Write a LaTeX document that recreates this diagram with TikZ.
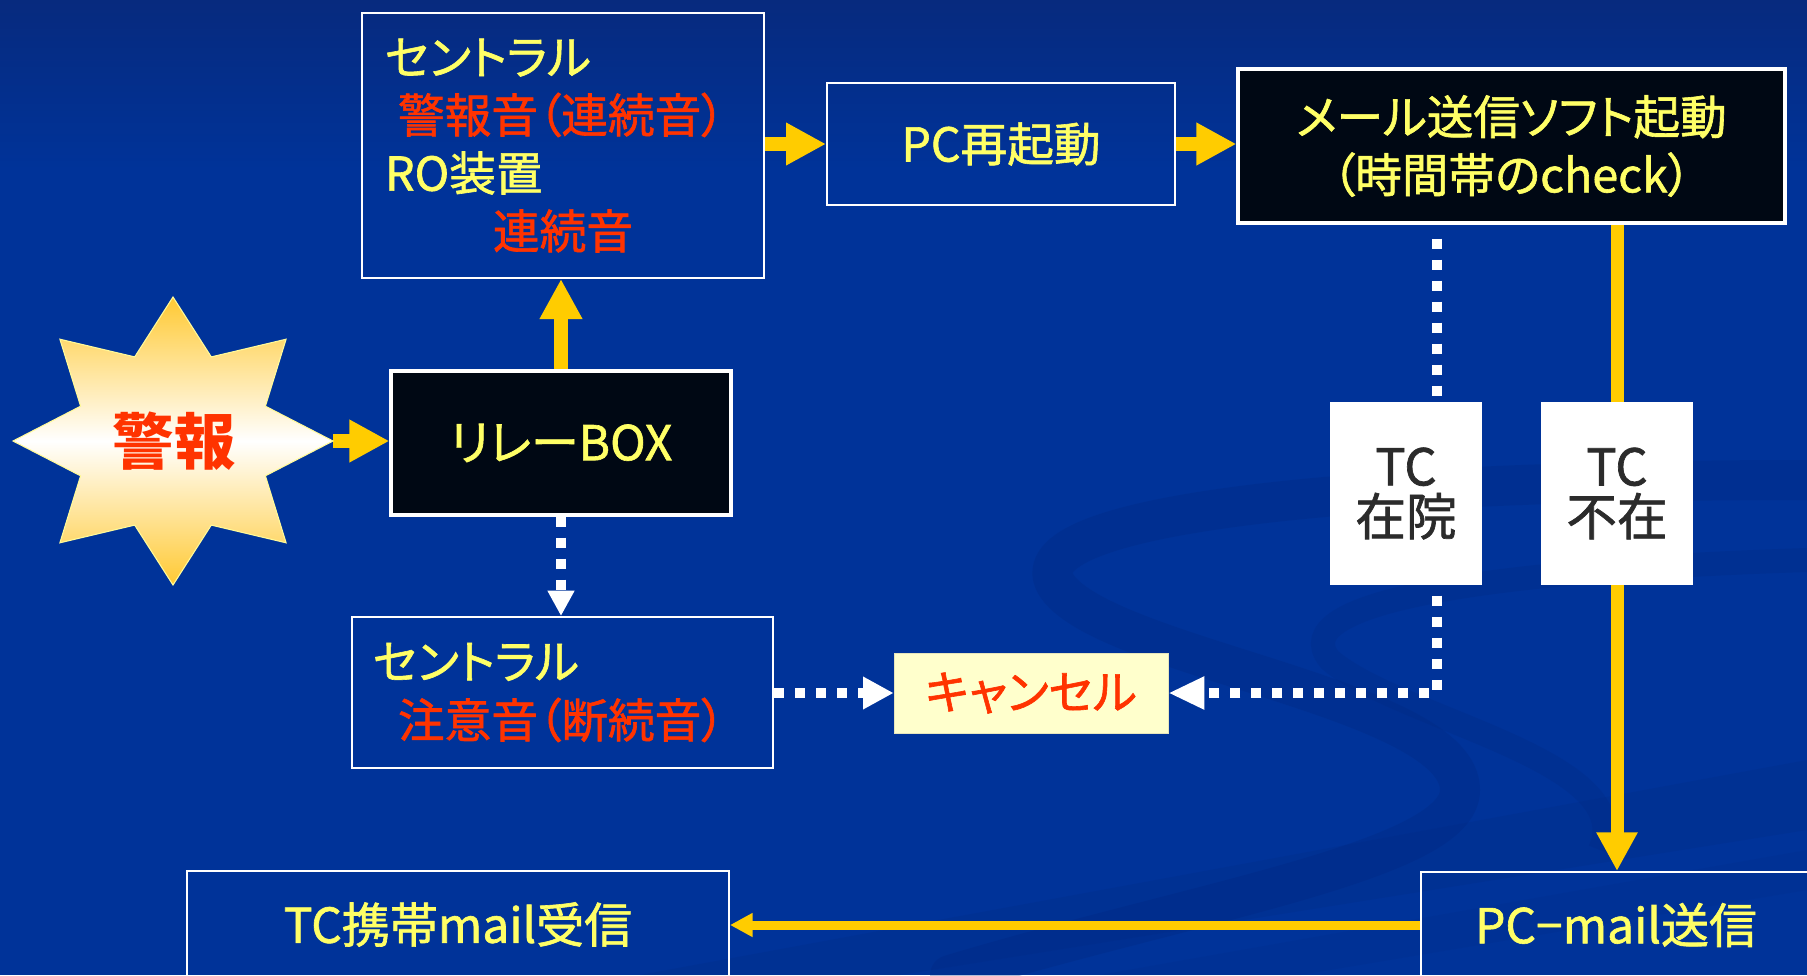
\documentclass[tikz,border=0pt]{standalone}
\usepackage{fontspec}
\setmainfont{Noto Sans CJK JP}[RawFeature=+palt]
\newfontfamily\jpmed{Noto Sans CJK JP}[RawFeature=+palt, FakeBold=1.3]
\usetikzlibrary{arrows.meta,calc}
\definecolor{bgtop}{HTML}{072A7E}
\definecolor{bgmain}{HTML}{003399}
\definecolor{swirlc}{HTML}{00297F}
\definecolor{ycol}{HTML}{FFCC00}
\definecolor{txty}{HTML}{FFFF66}
\definecolor{txtr}{HTML}{FF3300}
\definecolor{txtd}{HTML}{2B2B2B}
\definecolor{cancelbg}{HTML}{FFFFCC}
\definecolor{boxblack}{HTML}{000814}
\definecolor{startop}{HTML}{FFC933}
\pgfdeclarelayer{background}
\pgfdeclarelayer{links}
\pgfsetlayers{background,links,main}
\tikzset{
  bsz/.style 2 args={minimum width=#1*0.75pt, minimum height=#2*0.75pt},
  bluebox/.style={draw=white, line width=1.5pt, inner sep=0pt, text=txty,
    font=\jpmed\fontsize{35}{43.5}\selectfont},
  blackbox/.style={draw=white, fill=boxblack, line width=2.4pt, inner sep=0pt, text=txty,
    font=\jpmed\fontsize{35}{43.5}\selectfont, align=center},
  tcbox/.style={fill=white, inner sep=0pt, text=txtd, align=center,
    font=\jpmed\fontsize{38}{37.5}\selectfont},
  cancelbox/.style={fill=cancelbg, draw=cancelbg!80!gray, line width=0.5pt, inner sep=0pt,
    text=txtr, font=\jpmed\fontsize{35}{40}\selectfont},
  yarrow/.style={draw=ycol, line width=10.5pt, -{Triangle[length=30pt,width=30pt]}},
  ylong/.style={draw=ycol, line width=9.75pt, -{Triangle[length=29pt,width=29pt]}},
  ythin/.style={draw=ycol, line width=6.75pt, -{Triangle[length=17pt,width=17pt]}},
  wdot/.style={draw=white, line width=7.5pt, dash pattern=on 7.5pt off 8.25pt},
}
\begin{document}
\begin{tikzpicture}[x=0.75pt,y=-0.75pt]
\useasboundingbox (0,0) rectangle (1807,975);
\begin{pgfonlayer}{background}
  \fill[bgmain] (0,0) rectangle (1807,975);
  \shade[top color=bgtop, bottom color=bgmain] (0,0) rectangle (1807,170);
  % faint swirl decoration
  \draw[swirlc, line width=30pt, opacity=0.3, line cap=round]
    (1807,480) .. controls (1300,480) and (1000,520) .. (1060,590)
    .. controls (1120,660) and (1460,700) .. (1460,790)
    .. controls (1460,860) and (1200,900) .. (950,975);
  \draw[swirlc, line width=18pt, opacity=0.25]
    (1807,560) .. controls (1500,570) and (1280,600) .. (1330,660)
    .. controls (1400,720) and (1640,760) .. (1600,850);
  \fill[swirlc, opacity=0.2] (640,975) -- (1807,760) -- (1807,830) -- (900,975) -- cycle;
  \fill[swirlc, opacity=0.15] (1100,975) -- (1807,850) -- (1807,890) -- (1300,975) -- cycle;
\end{pgfonlayer}

% star
\draw[shading=axis, top color=startop, bottom color=startop, middle color=white,
      draw=yellow!40!white, line width=0.8pt]
  (333,441) -- (265.4,406.2) -- (286.1,339.2) -- (211.3,356.9) -- (173,297)
  -- (134.7,356.9) -- (59.9,339.2) -- (80.6,406.2) -- (13,441) -- (80.6,475.8)
  -- (59.9,542.8) -- (134.7,525.1) -- (173,585) -- (211.3,525.1) -- (286.1,542.8)
  -- (265.4,475.8) -- cycle;
\node[text=txtr, font=\fontsize{46}{46}\selectfont\bfseries] (alarm) at (174,441) {警報};
\coordinate (starE) at (333,441);

% boxes
\node[bluebox, bsz={402}{265}, inner xsep=17.25pt, text width=267pt, align=left]
  (box1) at (563,145.5)
  {セントラル\\\hspace*{9.75pt}\textcolor{txtr}{警報音（連続音）}\\RO装置\\\hspace*{81pt}\textcolor{txtr}{連続音}};
\node[bluebox, bsz={348}{122}] (pc) at (1001,144) {PC再起動};
\node[blackbox, bsz={547}{154}] (mail) at (1511.5,146)
  {メール送信ソフト起動\\（時間帯のcheck）};
\node[blackbox, bsz={340}{144}, font=\jpmed\fontsize{36}{40}\selectfont] (relay) at (561,443) {リレーBOX};
\node[bluebox, bsz={421}{151}, inner xsep=15.75pt, text width=284.25pt, align=left,
      font=\jpmed\fontsize{35}{44}\selectfont]
  (box2) at (562.5,692.5)
  {セントラル\\\hspace*{18.75pt}\textcolor{txtr}{注意音（断続音）}};
\node[cancelbox, bsz={274}{80}] (cancel) at (1031,693) {キャンセル};
\node[tcbox, bsz={152}{183}] (tcz) at (1406,493.5) {TC\\在院};
\node[tcbox, bsz={152}{183}] (tcf) at (1617,493.5) {TC\\不在};
\node[bluebox, bsz={542}{107}, font=\jpmed\fontsize{36}{40}\selectfont] (tcmail) at (458,924.5) {TC携帯mail受信};
\node[bluebox, bsz={390}{106}, font=\jpmed\fontsize{36}{40}\selectfont] (pcmail) at (1616,925) {PC−mail送信};

\coordinate (dl) at (1437,0);

% connectors
\begin{pgfonlayer}{links}
  \draw[yarrow] (starE) -- (starE -| relay.west);
  \draw[yarrow] (relay.north) -- (relay.north |- box1.south);
  \draw[yarrow] (pc.west -| box1.east) -- (pc.west);
  \draw[yarrow] (pc.east) -- (pc.east -| mail.west);
  \draw[ylong] (tcf |- mail.south) -- (tcf |- pcmail.north);
  \draw[ythin] (pcmail.west) -- (pcmail.west -| tcmail.east);
  \draw[wdot, -{Triangle[length=19pt,width=19pt]}] (relay.south) -- (relay.south |- box2.north);
  \draw[wdot, -{Triangle[length=23pt,width=23pt]}] (box2.east |- cancel.west) -- (cancel.west);
  \draw[wdot, -{Triangle[length=27pt,width=23pt]}] ($(dl |- mail.south)+(0,14)$) -- (dl |- cancel.east) -- (cancel.east);
\end{pgfonlayer}
\end{tikzpicture}
\end{document}
